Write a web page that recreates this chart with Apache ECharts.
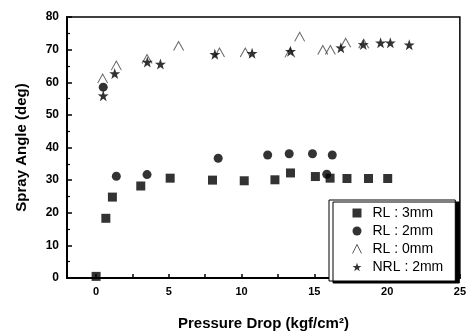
<!DOCTYPE html>
<html>
<head>
<meta charset="utf-8">
<script src="https://cdn.jsdelivr.net/npm/echarts@6/dist/echarts.min.js"></script>
<style>
  html, body { margin: 0; padding: 0; background: #fff; }
  #chart { width: 469px; height: 336px; }
</style>
</head>
<body>
<div id="chart"></div>
<script>
// 数据：[压降, 喷雾角]
const rl3mm = [[0, 0.5], [0.67, 18.3], [1.12, 24.8], [3.07, 28.2], [5.09, 30.6], [8.0, 30.0], [10.18, 29.8],
  [12.29, 30.1], [13.36, 32.2], [15.07, 31.1], [16.08, 30.6], [17.24, 30.5], [18.72, 30.5], [20.04, 30.5]];
const rl2mm = [[0.49, 58.5], [1.39, 31.2], [3.5, 31.7], [8.39, 36.7], [11.79, 37.7], [13.27, 38.1],
  [14.87, 38.1], [15.85, 31.8], [16.23, 37.7]];
const rl0mm = [[0.45, 61.1], [1.39, 65.1], [3.5, 67.1], [5.67, 71.1], [8.48, 69.1], [10.25, 69.1],
  [13.32, 69.0], [13.99, 73.9], [15.58, 69.9], [16.1, 69.9], [17.15, 72.1], [18.39, 71.8]];
const nrl2mm = [[0.49, 55.9], [1.28, 62.7], [3.52, 66.2], [4.42, 65.6], [8.16, 68.6], [10.72, 68.9],
  [13.36, 69.5], [16.82, 70.6], [18.36, 71.6], [19.55, 72.1], [20.22, 72.1], [21.52, 71.5]];
const seriesNames = ['RL : 3mm', 'RL : 2mm', 'RL : 0mm', 'NRL : 2mm'];
const xLabels = [0, 5, 10, 15, 20, 25];
const xTicks = [0, 2.5, 5, 7.5, 10, 12.5, 15, 17.5, 20, 22.5, 25];

const font = 'Liberation Sans, Arial, sans-serif';
const caret = 'path://M0,10 L5,0 L10,10';
const star = 'path://M50,0 L61.8,35.1 L97.6,34.5 L69,56.1 L79.4,90.5 L50,70 L20.6,90.5 L31,56.1 L2.4,34.5 L38.2,35.1 Z';

const chart = echarts.init(document.getElementById('chart'));
const option = {
  animation: false,
  grid: {
    left: 67, right: 4, top: 17, bottom: 54,
    show: true, borderColor: '#000', borderWidth: 1.5
  },
  legend: {
    data: [
      { name: seriesNames[0], icon: 'rect' },
      { name: seriesNames[1], icon: 'circle' },
      { name: seriesNames[2], icon: caret, itemStyle: { color: 'none', borderColor: '#333', borderWidth: 1 } },
      { name: seriesNames[3], icon: star }
    ],
    orient: 'vertical',
    left: 329, top: 200,
    padding: [6, 12, 7, 21],
    itemGap: 4,
    itemWidth: 9, itemHeight: 9,
    backgroundColor: '#fff',
    borderColor: '#000', borderWidth: 1,
    shadowColor: '#000', shadowOffsetX: 4, shadowOffsetY: 2, shadowBlur: 0,
    textStyle: { fontFamily: font, fontSize: 14, color: '#000', padding: [0, 0, 0, 6] }
  },
  xAxis: {
    type: 'value', min: -2, max: 25,
    axisLine: { lineStyle: { color: '#000', width: 2 } },
    axisTick: { inside: true, length: 4, customValues: xTicks, lineStyle: { color: '#000', width: 1.5 } },
    axisLabel: { customValues: xLabels, fontFamily: font, fontWeight: 'bold', fontSize: 11, color: '#000', margin: 8 },
    splitLine: { show: false },
    name: 'Pressure Drop (kgf/cm²)', nameLocation: 'middle', nameGap: 38,
    nameTextStyle: { fontFamily: font, fontWeight: 'bold', fontSize: 15, color: '#000' }
  },
  yAxis: {
    type: 'value', min: 0, max: 80, interval: 10,
    axisLine: { show: true, onZero: false, lineStyle: { color: '#000', width: 2 } },
    axisTick: { inside: true, length: 5, lineStyle: { color: '#000', width: 1.5 } },
    minorTick: { show: true, splitNumber: 2, length: 3, lineStyle: { color: '#000', width: 1.2 } },
    axisLabel: { fontFamily: font, fontWeight: 'bold', fontSize: 12, color: '#000', margin: 8 },
    splitLine: { show: false },
    name: 'Spray Angle (deg)', nameLocation: 'middle', nameGap: 38,
    nameTextStyle: { fontFamily: font, fontWeight: 'bold', fontSize: 15, color: '#000' }
  },
  series: [
    {
      name: seriesNames[0], type: 'scatter', data: rl3mm,
      symbol: 'rect', symbolSize: 9, itemStyle: { color: '#000' }
    },
    {
      name: seriesNames[1], type: 'scatter', data: rl2mm,
      symbol: 'circle', symbolSize: 9, itemStyle: { color: '#000' }
    },
    {
      name: seriesNames[2], type: 'scatter', data: rl0mm,
      symbol: caret, symbolSize: [10, 9],
      itemStyle: { color: 'none', borderColor: '#444', borderWidth: 1 }
    },
    {
      name: seriesNames[3], type: 'scatter', data: nrl2mm,
      symbol: star, symbolSize: 11, itemStyle: { color: '#000' }
    }
  ]
};
chart.setOption(option);
</script>
</body>
</html>
